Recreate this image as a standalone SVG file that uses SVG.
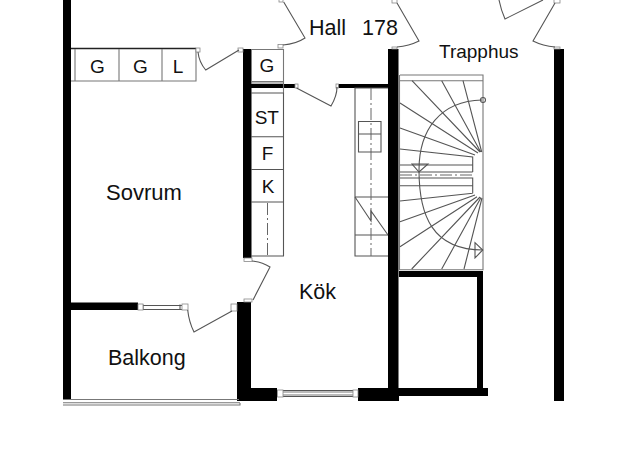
<svg xmlns="http://www.w3.org/2000/svg" width="625" height="460" viewBox="0 0 625 460">
<style>
text{font-family:"Liberation Sans",Arial,sans-serif;fill:#111}
.r{font-size:21.500px}.s{font-size:19px}.t{font-size:19px}
.w{fill:#000}
.l{fill:none;stroke:#555;stroke-width:1.1}
.f{fill:none;stroke:#777;stroke-width:1.1}
.d{fill:none;stroke:#666;stroke-width:1;stroke-dasharray:12 3 2 3}
.j{fill:#fff;stroke:#888;stroke-width:.8}
</style>
<rect width="625" height="460" fill="#fff"/>
<g id="walls">
<rect class="w" x="63" y="0" width="8" height="399"/>
<rect class="w" x="71" y="302.500" width="67" height="7.500"/>
<rect class="w" x="243" y="49" width="8.500" height="209"/>
<rect class="w" x="251" y="84" width="44" height="4"/>
<rect class="w" x="338" y="84" width="50" height="4"/>
<rect class="w" x="237" y="302" width="14" height="99"/>
<rect class="w" x="237" y="388" width="40" height="13"/>
<rect class="w" x="358" y="388" width="41" height="13"/>
<rect class="w" x="399" y="388" width="89" height="8"/>
<rect class="w" x="388" y="49" width="10.500" height="352"/>
<rect class="w" x="399" y="271" width="84" height="6"/>
<rect class="w" x="477" y="271" width="6" height="118"/>
<rect class="w" x="554" y="49" width="10" height="352"/>
</g>
<g id="closets">
<path d="M71 48.500H196" fill="none" stroke="#222" stroke-width="1.600"/>
<path class="f" d="M71 81H196V49M75 49V81M119 49V81M162 49V81"/>
<path class="f" d="M251 49.500H283.500V93M251 81.500H283.500M251 83H283.500"/>
<path class="l" d="M251 93H283.500V256H251M251 136.800H283.500M251 169.500H283.500M251 202H283.500"/>
<path class="d" d="M267.500 203V256"/>
</g>
<g id="counter">
<path class="l" d="M388 88H355V256H388M355 197H388M355 235H388"/>
<path class="d" d="M371 88V256"/>
<path class="l" d="M358.500 121.500H381V152H358.500ZM358.500 134H381"/>
<path class="l" d="M355 197L371 221V211L388 235"/>
</g>
<g id="stairs">
<path class="f" d="M400 75H483V269.700H399.500V75M400 80.700H483"/>
<path class="l" d="M412 80.700L480 152M441.700 80.700L480.700 152M463 80.700L481.700 152M400 103L478 153M400 128L475 155M400 149L472.700 157V172M400 165H472.700M400 172H472.700"/>
<path class="l" d="M400 178H472.700V193.300M400 185.700H472.700M400 201L472.700 193.300M400 221.700L475 195M400 246.700L477 196.700M411.700 269L480 197M441.700 269L481 197.500M464 269L482 198"/>
<path class="d" d="M400 175H473"/>
<path class="l" d="M482 100C440 101 419 130 419 170C419 215 432 250 483 250"/>
<circle class="l" cx="483" cy="100" r="2.500"/>
<path class="l" d="M412 164H428L419 172ZM475 242.700L482.700 250L475 258Z"/>
</g>
<g id="openings">
<path class="l" d="M143 304.500V310M180 304.500V310M143 305.500H182M143 309.500H182"/>
<rect class="j" x="138" y="304" width="5" height="6"/>
<rect class="j" x="182" y="304" width="6" height="6"/>
<rect class="j" x="231" y="304" width="6" height="7"/>
<path class="l" d="M283 390.500H353M283 396.500H353"/>
<path class="f" d="M283 392H353M283 395H353"/>
<rect class="j" x="277.500" y="390" width="5.500" height="7"/>
<rect class="j" x="353" y="390" width="5" height="7"/>
<path class="f" d="M63 399.500H239M63 402.700H240M63 405H240V403"/>
</g>
<g id="doors">
<rect class="j" x="196" y="48" width="4" height="4"/>
<rect class="j" x="238" y="48" width="5" height="4"/>
<path class="l" d="M198 52Q199 62 205.700 70L239 50"/>
<rect class="j" x="279" y="-2" width="4" height="4"/>
<rect class="j" x="278" y="44.500" width="5" height="3.500"/>
<path class="l" d="M283.700 2L305 38Q296 44 283 45"/>
<rect class="j" x="295" y="84" width="3" height="4"/>
<rect class="j" x="336" y="84" width="2.500" height="4"/>
<path class="l" d="M296.500 88L331 106Q337 96 337 87"/>
<rect class="j" x="392" y="-2" width="5" height="5"/>
<rect class="j" x="392" y="47" width="5" height="2"/>
<path class="l" d="M397 3L419 41Q409 46 397 47"/>
<rect class="j" x="554" y="-2" width="6" height="5"/>
<rect class="j" x="554" y="47" width="6" height="2"/>
<path class="l" d="M555 3L533 41Q543 46 555 47"/>
<path class="l" d="M499 0Q501 10 505 19L543 0"/>
<rect class="j" x="244" y="258" width="8" height="3.500"/>
<rect class="j" x="244" y="299" width="8" height="3"/>
<path class="l" d="M252 261Q262 262 270 267L253 300"/>
<path class="l" d="M187.700 310Q189 322 194 332L232 311"/>
</g>
<g id="labels">
<text class="r" x="309" y="34.700">Hall</text>
<text class="r" x="362" y="34.700">178</text>
<text class="t" x="439" y="58">Trapphus</text>
<text class="s" x="97.300" y="73" text-anchor="middle">G</text>
<text class="s" x="140.500" y="73" text-anchor="middle">G</text>
<text class="s" x="178" y="73" text-anchor="middle">L</text>
<text class="s" x="267" y="71.700" text-anchor="middle">G</text>
<text class="s" x="266.800" y="124" text-anchor="middle">ST</text>
<text class="s" x="267.500" y="160" text-anchor="middle">F</text>
<text class="s" x="268" y="193.300" text-anchor="middle">K</text>
<text class="r" x="106" y="200" style="font-size:22px">Sovrum</text>
<text class="r" x="299" y="299">Kök</text>
<text class="r" x="108" y="365">Balkong</text>
</g>
</svg>
